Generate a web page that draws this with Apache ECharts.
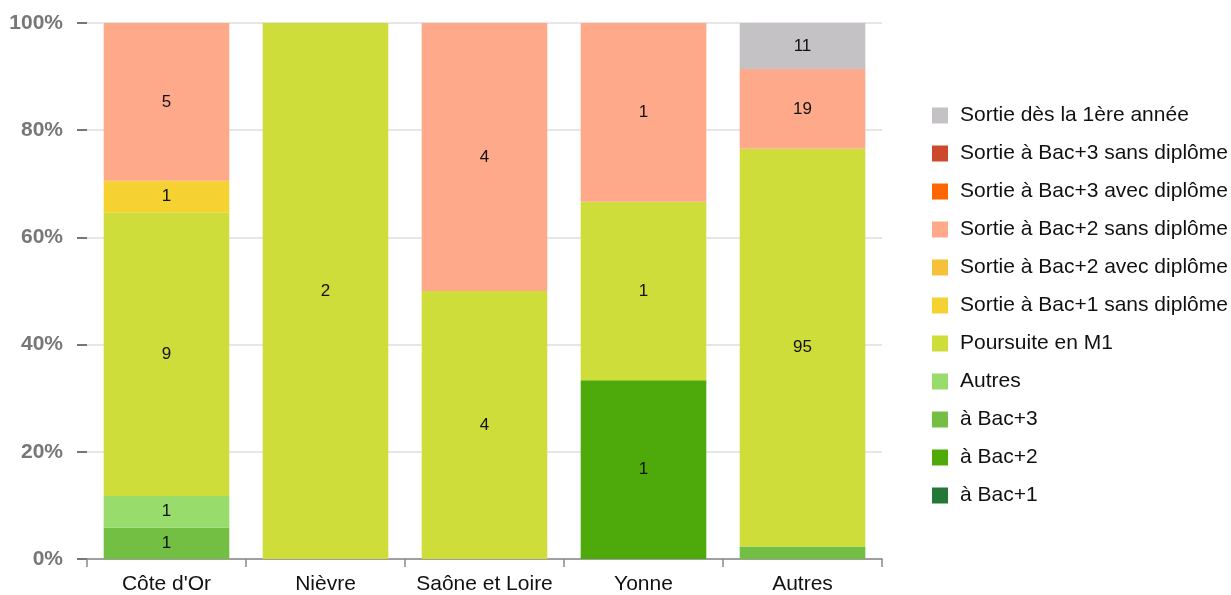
<!DOCTYPE html>
<html><head><meta charset="utf-8">
<script src="https://cdn.jsdelivr.net/npm/echarts@6/dist/echarts.min.js"></script>
<style>html,body{margin:0;padding:0;background:#fff}#c{width:1231px;height:595px}</style>
</head><body><div id="c"></div>
<script>
const categories = ["Côte d'Or", "Nièvre", "Saône et Loire", "Yonne", "Autres"];
const yTickLabels = ["0%", "20%", "40%", "60%", "80%", "100%"];
// bottom to top stacking order
const seriesNames = ["à Bac+1", "à Bac+2", "à Bac+3", "Autres", "Poursuite en M1",
  "Sortie à Bac+1 sans diplôme", "Sortie à Bac+2 avec diplôme", "Sortie à Bac+2 sans diplôme",
  "Sortie à Bac+3 avec diplôme", "Sortie à Bac+3 sans diplôme", "Sortie dès la 1ère année"];
const seriesColors = ["#237838", "#4ea90b", "#72bf44", "#98dd6c", "#cfdd3b",
  "#f5d131", "#f5c03a", "#ffa98b", "#ff6600", "#cc4a2b", "#c4c2c5"];
const bacPlus1 = [0, 0, 0, 0, 0];
const bacPlus2 = [0, 0, 0, 1, 0];
const bacPlus3 = [1, 0, 0, 0, 3];
const autres = [1, 0, 0, 0, 0];
const poursuiteM1 = [9, 2, 4, 1, 95];
const sortieBac1Sans = [1, 0, 0, 0, 0];
const sortieBac2Avec = [0, 0, 0, 0, 0];
const sortieBac2Sans = [5, 0, 4, 1, 19];
const sortieBac3Avec = [0, 0, 0, 0, 0];
const sortieBac3Sans = [0, 0, 0, 0, 0];
const sortie1ere = [0, 0, 0, 0, 11];
const counts = [bacPlus1, bacPlus2, bacPlus3, autres, poursuiteM1, sortieBac1Sans,
  sortieBac2Avec, sortieBac2Sans, sortieBac3Avec, sortieBac3Sans, sortie1ere];

const totals = categories.map((_, i) => counts.reduce((s, a) => s + a[i], 0));
const font = "'Liberation Sans', Arial, sans-serif";

const series = seriesNames.map((name, k) => ({
  name: name,
  type: 'bar',
  stack: 'all',
  barCategoryGap: '21%',
  itemStyle: { color: seriesColors[k] },
  label: {
    show: true, position: 'inside', color: '#111', fontSize: 17, fontFamily: font,
    formatter: p => (p.data.raw > 0 && p.value >= 4) ? String(p.data.raw) : ''
  },
  data: counts[k].map((v, i) => ({ value: v / totals[i] * 100, raw: v }))
}));

const chart = echarts.init(document.getElementById('c'), null, { renderer: 'canvas' });
chart.setOption({
  animation: false,
  backgroundColor: '#fff',
  textStyle: { fontFamily: font },
  grid: { left: 87, right: 349, top: 23, bottom: 33, containLabel: false },
  legend: {
    orient: 'vertical', left: 927, top: 100,
    data: seriesNames.slice().reverse(),
    icon: 'rect', itemWidth: 16, itemHeight: 16, itemGap: 17,
    textStyle: { fontSize: 21, color: '#111', fontFamily: font, lineHeight: 16, padding: [0, 0, 0, 7] }
  },
  xAxis: {
    type: 'category', data: categories,
    axisLine: { lineStyle: { color: '#888', width: 1.5 } },
    axisTick: { show: true, length: 8, lineStyle: { color: '#888', width: 1.5 } },
    axisLabel: { interval: 0, fontSize: 21, color: '#111', margin: 15, fontFamily: font }
  },
  yAxis: {
    type: 'value', min: 0, max: 100, interval: 20,
    axisLine: { show: false },
    axisTick: { show: true, length: 10, lineStyle: { color: '#777', width: 2 } },
    axisLabel: {
      fontSize: 21, fontWeight: 'bold', color: '#777', margin: 24, fontFamily: font,
      formatter: v => yTickLabels[Math.round(v / 20)]
    },
    splitLine: { show: true, lineStyle: { color: '#e6e6e6', width: 2 } }
  },
  series: series
});
</script></body></html>
